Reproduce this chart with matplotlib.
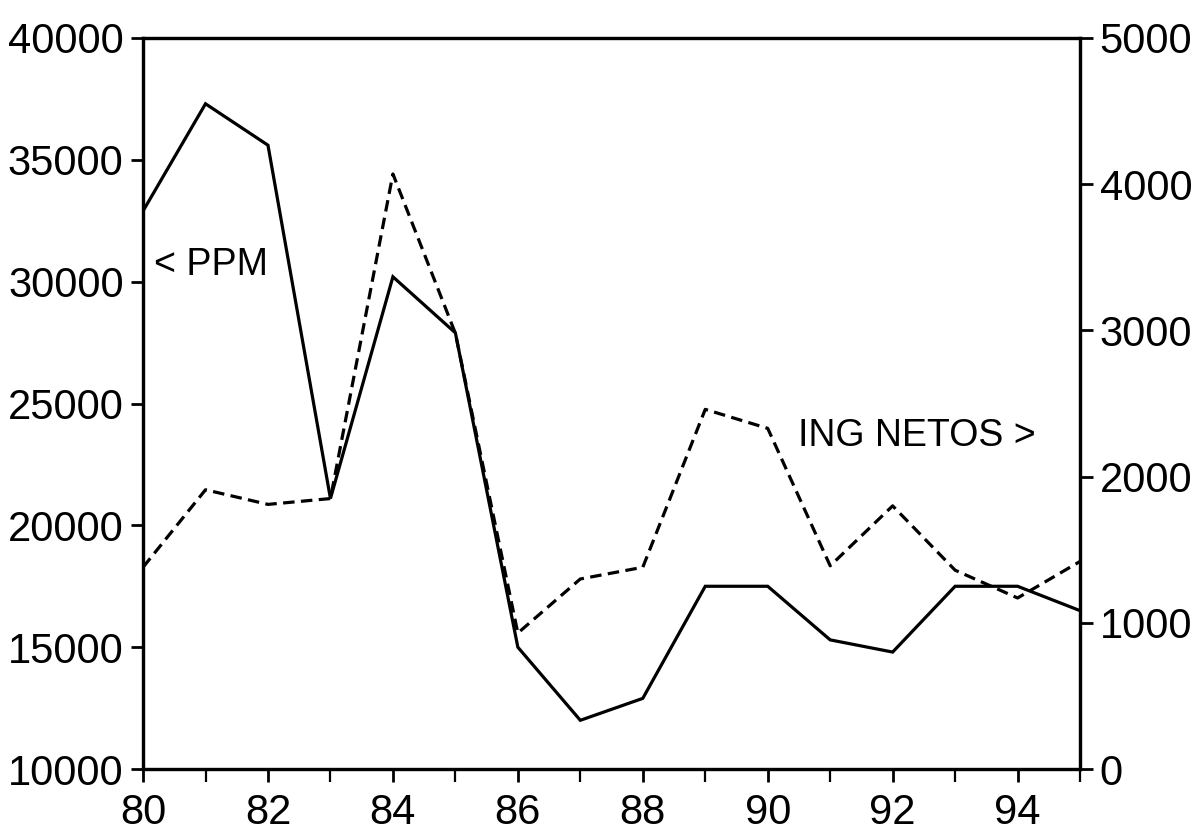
import numpy as np
import matplotlib
matplotlib.use('Agg')
import matplotlib.pyplot as plt
from matplotlib.ticker import MultipleLocator

plt.rcParams['font.family'] = ['Liberation Sans', 'DejaVu Sans']

# años (80 = 1980)
years = [80, 81, 82, 83, 84, 85, 86, 87, 88, 89, 90, 91, 92, 93, 94, 95]
# PPM, eje izquierdo
ppm = [32900, 37300, 35600, 21100, 30200, 27900, 15000, 12000,
       12900, 17500, 17500, 15300, 14800, 17500, 17500, 16500]
# ingresos netos, eje derecho
ing_netos = [1380, 1910, 1810, 1850, 4070, 2980, 930, 1300,
             1380, 2460, 2330, 1390, 1800, 1360, 1170, 1420]

left_ticks = [10000, 15000, 20000, 25000, 30000, 35000, 40000]
right_ticks = [0, 1000, 2000, 3000, 4000, 5000]
x_ticks = [80, 82, 84, 86, 88, 90, 92, 94]

fig = plt.figure(figsize=(11.99, 8.35), dpi=100)
ax = fig.add_axes([0.1193, 0.079, 0.7815, 0.8755])
ax2 = ax.twinx()

ax.plot(years, ppm, color='black', lw=2.3, solid_joinstyle='miter')
ax2.plot(years, ing_netos, color='black', lw=2.3, linestyle=(0, (3.6, 2.0)))

ax.set_xlim(80, 95)
ax.set_ylim(10000, 40000)
ax2.set_ylim(0, 5000)

ax.set_xticks(x_ticks)
ax.set_xticklabels([str(v) for v in x_ticks])
ax.xaxis.set_minor_locator(MultipleLocator(1))
ax.set_yticks(left_ticks)
ax.set_yticklabels([str(v) for v in left_ticks])
ax2.set_yticks(right_ticks)
ax2.set_yticklabels([str(v) for v in right_ticks])

for a in (ax, ax2):
    for s in a.spines.values():
        s.set_linewidth(2.3)
ax.tick_params(axis='both', which='major', length=9, width=2.0,
               labelsize=30, pad=5, direction='out')
ax.tick_params(axis='x', which='minor', length=9, width=1.6, direction='out')
ax.tick_params(axis='x', which='major', pad=8)
ax2.tick_params(axis='y', which='major', length=9, width=2.0,
                labelsize=30, pad=5, direction='out')

ax.text(80.17, 30700, '< PPM', fontsize=27, ha='left', va='center')
ax2.text(92.38, 2280, 'ING NETOS >', fontsize=27, ha='center', va='center')

fig.savefig('out.png', dpi=100)
